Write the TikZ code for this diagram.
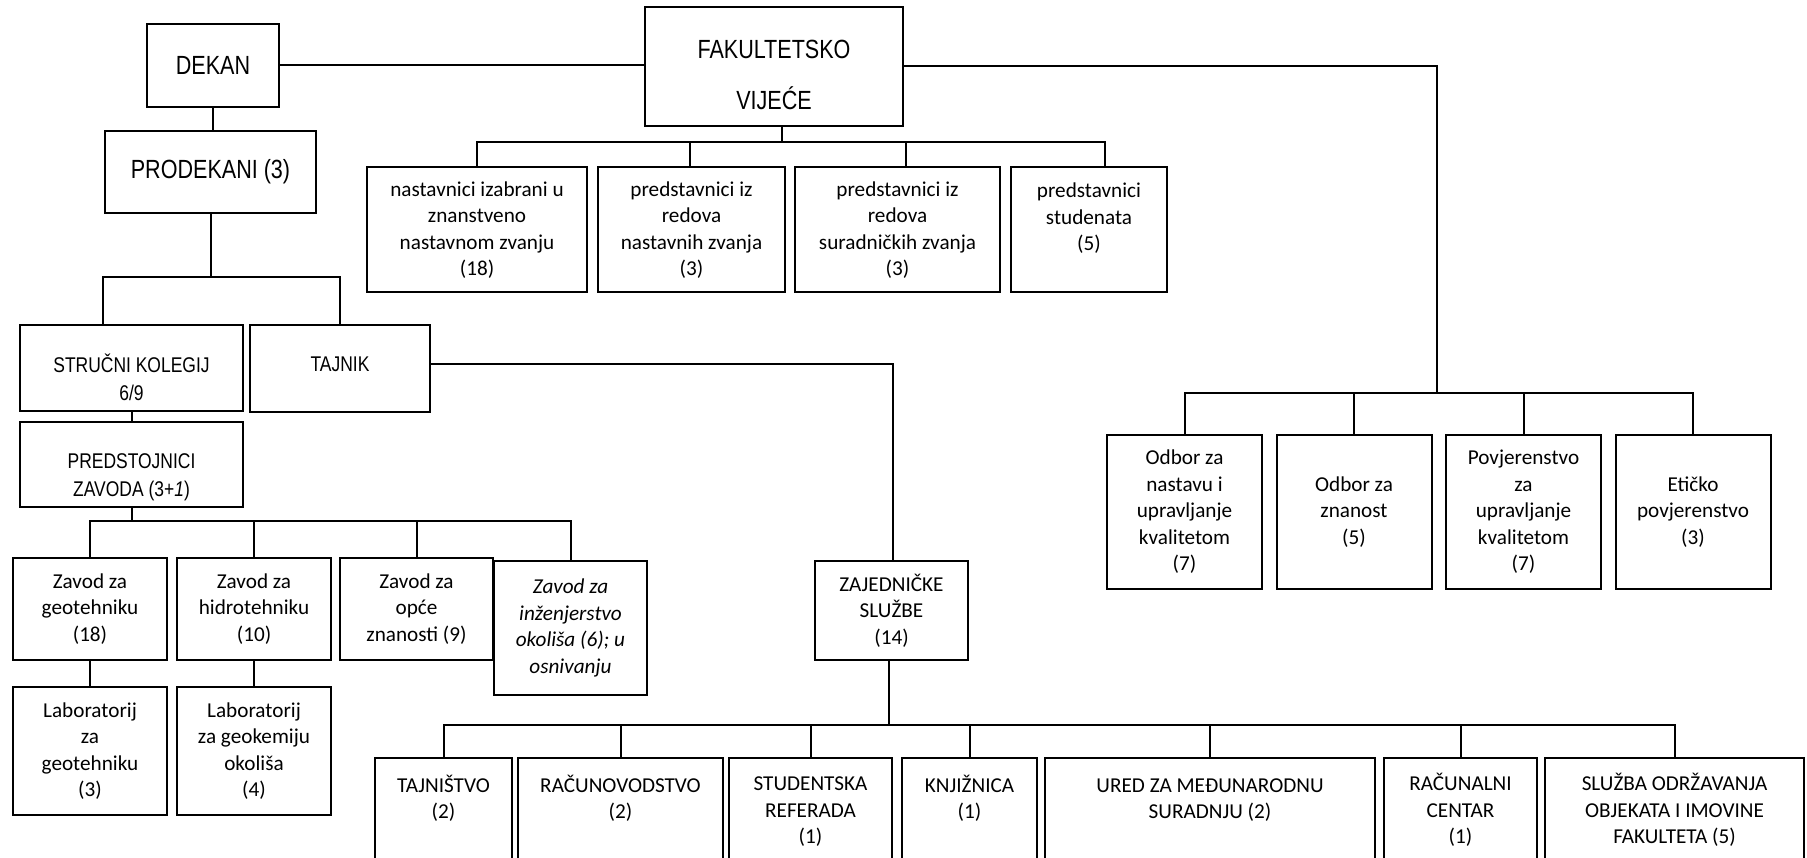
\documentclass[tikz,border=0pt]{standalone}
\usepackage{fontspec}
\setmainfont{Carlito}
\newfontfamily\narrowfont[FakeStretch=0.82]{Liberation Sans}
\usetikzlibrary{positioning}
\newcommand\toppad[1]{\rule{0pt}{#1pt}}
\newcommand\botpad[1]{\rule[-#1pt]{0pt}{#1pt}}

\begin{document}
\begin{tikzpicture}[
    x=1pt, y=-1pt,
    box/.style={rectangle, draw, line width=2pt, inner sep=0pt, align=center, font=\fontsize{21.2}{26.5}\selectfont},
    capsbox/.style={box, font=\narrowfont\fontsize{21.3}{28}\selectfont},
    headbox/.style={box, font=\narrowfont\fontsize{26.3}{31}\selectfont},
    clan/.style={box, minimum height=125pt},
    zavod/.style={box, minimum width=154pt, minimum height=102pt},
    lab/.style={box, minimum width=154pt, minimum height=128pt},
    odbor/.style={box, minimum width=155pt, minimum height=154pt},
    sluzba/.style={box, minimum height=103pt},
    link/.style={draw, line width=2pt}
  ]
  \useasboundingbox (0,0) rectangle (1807,858);
  \clip (0,0) rectangle (1807,858);

  % uprava
  \node [headbox, minimum width=132pt, minimum height=83pt] (dekan) at (213,65.5) {DEKAN};
  \node [headbox, minimum width=258pt, minimum height=119pt] (vijece) at (774,66.5) {\toppad{35}FAKULTETSKO\\[20pt]VIJEĆE};
  \node [headbox, minimum width=211pt, minimum height=82pt] (prodekani) at (210.5,172) {PRODEKANI (3)};

  % sastav vijeca
  \node [clan, minimum width=220pt] (nastavnici) at (477,230) {nastavnici izabrani u\\znanstveno\\nastavnom zvanju\\(18)};
  \node [clan, minimum width=187pt, right=9pt of nastavnici] (nastzvanja) {predstavnici iz\\redova\\nastavnih zvanja\\(3)};
  \node [clan, minimum width=205pt, right=8pt of nastzvanja] (surzvanja) {predstavnici iz\\redova\\suradničkih zvanja\\(3)};
  \node [clan, minimum width=156pt, right=9pt of surzvanja] (studenti) {predstavnici\\studenata\\(5)\\~};

  % kolegij i tajnik
  \node [capsbox, minimum width=223pt, minimum height=86pt] (strucni) at (131.5,368) {\toppad{37.6}STRUČNI KOLEGIJ\\6/9};
  \node [capsbox, minimum width=180pt, minimum height=87pt] (tajnik) at (340,368.5) {TAJNIK\botpad{9}};
  \node [capsbox, minimum width=223pt, minimum height=85pt] (predstojnici) at (131.5,464.5) {\toppad{40.7}PREDSTOJNICI\\ZAVODA (3+\textit{1})};

  % zavodi i laboratoriji
  \node [zavod] (zgeo) at (90,609) {Zavod za\\geotehniku\\(18)};
  \node [zavod, right=8pt of zgeo] (zhidro) {Zavod za\\hidrotehniku\\(10)};
  \node [zavod, minimum width=153pt, right=7pt of zhidro] (zopce) {Zavod za\\opće\\znanosti (9)};
  \node [box, minimum width=153pt, minimum height=134pt, font=\itshape\fontsize{21.2}{26.5}\selectfont] (zinz) at (570.5,628) {Zavod za\\inženjerstvo\\okoliša (6); u\\osnivanju};
  \node [lab, below=25pt of zgeo] (labgeo) {Laboratorij\\za\\geotehniku\\(3)};
  \node [lab, below=25pt of zhidro] (labkem) {Laboratorij\\za geokemiju\\okoliša\\(4)};

  % odbori
  \node [odbor] (odbnastava) at (1184.5,512) {Odbor za\\nastavu i\\upravljanje\\kvalitetom\\(7)};
  \node [odbor, right=12.5pt of odbnastava] (odbznanost) {Odbor za\\znanost\\(5)};
  \node [odbor, right=12.5pt of odbznanost] (povkvaliteta) {Povjerenstvo\\za\\upravljanje\\kvalitetom\\(7)};
  \node [odbor, right=12.5pt of povkvaliteta] (etpov) {Etičko\\povjerenstvo\\(3)};

  % sluzbe
  \node [box, minimum width=153pt, minimum height=99pt] (zajednicke) at (891.5,610.5) {ZAJEDNIČKE\\SLUŽBE\\(14)};
  \node [sluzba, minimum width=137pt] (tajnistvo) at (443.5,809.5) {\toppad{18}TAJNIŠTVO\\(2)\\~};
  \node [sluzba, minimum width=205pt] (racunovodstvo) at (620.5,809.5) {\toppad{18}RAČUNOVODSTVO\\(2)\\~};
  \node [sluzba, minimum width=163pt] (referada) at (810.5,809.5) {\toppad{18}STUDENTSKA\\REFERADA\\(1)};
  \node [sluzba, minimum width=135pt] (knjiznica) at (969.5,809.5) {\toppad{18}KNJIŽNICA\\(1)\\~};
  \node [sluzba, minimum width=330pt] (ured) at (1210,809.5) {\toppad{18}URED ZA MEĐUNARODNU\\SURADNJU (2)\\~};
  \node [sluzba, minimum width=153pt] (racunalni) at (1460.5,809.5) {\toppad{18}RAČUNALNI\\CENTAR\\(1)};
  \node [sluzba, minimum width=259pt] (odrzavanje) at (1674.5,809.5) {\toppad{18}SLUŽBA ODRŽAVANJA\\OBJEKATA I IMOVINE\\FAKULTETA (5)};

  % veze
  \path [link] (dekan.east) -- (dekan.east -| vijece.west);
  \path [link] (dekan.south) -- (dekan.south |- prodekani.north);

  \coordinate (busp) at (212,277);
  \path [link] (prodekani.south) -- (prodekani.south |- busp);
  \path [link] ([xshift=-28.5pt]strucni.north) |- (busp) -| (tajnik.north);
  \path [link] (strucni) -- (predstojnici);

  \coordinate (busz) at (131.5,521);
  \path [link] (predstojnici) -- (busz);
  \foreach \z in {zgeo, zhidro, zopce, zinz}
    \path [link] (busz) -| (\z.north);
  \path [link] (zgeo) -- (labgeo);
  \path [link] (zhidro) -- (labkem);

  \coordinate (busv) at (782,142);
  \path [link] (vijece.south -| busv) -- (busv);
  \foreach \n/\s in {nastavnici/0pt, nastzvanja/-2pt, surzvanja/8pt, studenti/16pt}
    \path [link] (busv) -| ([xshift=\s]\n.north);

  \coordinate (busr) at (1437,393);
  \path [link] (vijece.east) -| (busr);
  \foreach \n in {odbnastava, odbznanost, povkvaliteta, etpov}
    \path [link] (busr) -| (\n.north);

  \path [link] ([yshift=4.5pt]tajnik.east) -| ([xshift=1.5pt]zajednicke.north);

  \coordinate (busb) at (889,725);
  \path [link] (zajednicke.south -| busb) -- (busb);
  \foreach \n in {tajnistvo, racunovodstvo, referada, knjiznica, ured, racunalni, odrzavanje}
    \path [link] (busb) -| (\n.north);
\end{tikzpicture}
\end{document}
